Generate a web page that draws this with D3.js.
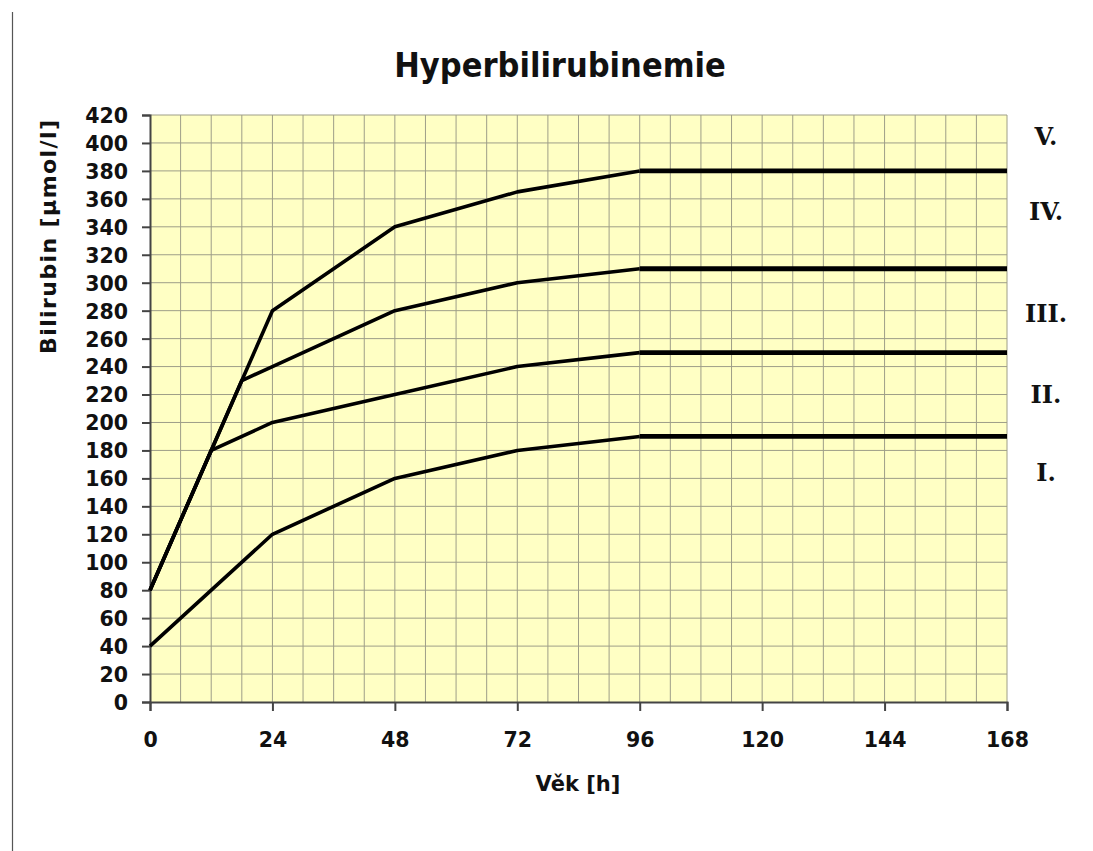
<!DOCTYPE html>
<html>
<head>
<meta charset="utf-8">
<script src="https://cdn.jsdelivr.net/npm/d3@7"></script>
<style>
  body { margin: 0; background: #fff; }
  svg { display: block; }
  .tick text { font-family: Verdana, "DejaVu Sans", sans-serif; font-weight: bold; }
</style>
</head>
<body>
<svg id="chart"></svg>
<script>
// hours of age for each curve point
let hoursI   = [0, 24, 48, 72, 96];
let valuesI  = [40, 120, 160, 180, 190];
let hoursII  = [0, 12, 24, 48, 72, 96];
let valuesII = [80, 180, 200, 220, 240, 250];
let hoursIII  = [0, 12, 18, 24, 48, 72, 96];
let valuesIII = [80, 180, 230, 240, 280, 300, 310];
let hoursIV  = [0, 12, 18, 24, 48, 72, 96];
let valuesIV = [80, 180, 230, 280, 340, 365, 380];
// flat limits after 96 h
let plateauStart = 96, plateauEnd = 168;
let plateaus = [190, 250, 310, 380];
// zone labels and their level
let zoneNames = ["V.", "IV.", "III.", "II.", "I."];
let zoneLevels = [405, 351, 278, 220, 164];

let xTicks = [0, 24, 48, 72, 96, 120, 144, 168];
let yTicks = d3.range(0, 421, 20);

let width = 1093, height = 851;
let svg = d3.select("#chart").attr("width", width).attr("height", height);

let x = d3.scaleLinear().domain([0, 168]).range([150, 1007]);
let y = d3.scaleLinear().domain([0, 420]).range([702, 115]);

// frame line on the left
svg.append("line")
    .attr("x1", 12.5).attr("x2", 12.5).attr("y1", 12).attr("y2", height)
    .attr("stroke", "#555").attr("stroke-width", 1.2);

svg.append("rect")
    .attr("x", x(0)).attr("y", y(420))
    .attr("width", x(168) - x(0)).attr("height", y(0) - y(420))
    .attr("fill", "#ffffc4");

let grid = svg.append("g").attr("stroke", "#9e9e88").attr("stroke-width", 1);
grid.selectAll(".vg").data(d3.range(6, 169, 6)).join("line")
    .attr("x1", d => x(d)).attr("x2", d => x(d))
    .attr("y1", y(0)).attr("y2", y(420));
grid.selectAll(".hg").data(yTicks.slice(1)).join("line")
    .attr("x1", x(0)).attr("x2", x(168))
    .attr("y1", d => y(d)).attr("y2", d => y(d));

let xAxis = svg.append("g")
    .attr("transform", `translate(0,${y(0)})`)
    .call(d3.axisBottom(x).tickValues(xTicks).tickSize(9).tickPadding(21));
let yAxis = svg.append("g")
    .attr("transform", `translate(${x(0)},0)`)
    .call(d3.axisLeft(y).tickValues(yTicks).tickSize(8).tickPadding(14));
[xAxis, yAxis].forEach(a => {
  a.select(".domain").attr("stroke", "#444").attr("stroke-width", 2);
  a.selectAll(".tick line").attr("stroke", "#444").attr("stroke-width", 2);
  a.selectAll(".tick text").attr("fill", "#111").style("font-size", "20.5px");
});
yAxis.selectAll(".tick text").attr("dy", "0.36em");

let line = d3.line().x(d => x(d[0])).y(d => y(d[1]));
let curves = [
  [hoursI, valuesI], [hoursII, valuesII], [hoursIII, valuesIII], [hoursIV, valuesIV]
];
svg.append("g").selectAll("path").data(curves).join("path")
    .attr("d", c => line(d3.zip(c[0], c[1])))
    .attr("fill", "none").attr("stroke", "#000").attr("stroke-width", 3.6)
    .attr("stroke-linejoin", "round");
svg.append("g").selectAll("line").data(plateaus).join("line")
    .attr("x1", x(plateauStart)).attr("x2", x(plateauEnd))
    .attr("y1", d => y(d)).attr("y2", d => y(d))
    .attr("stroke", "#000").attr("stroke-width", 4.8);

svg.append("g").selectAll("text").data(zoneNames).join("text")
    .attr("x", 1046).attr("y", (d, i) => y(zoneLevels[i]))
    .attr("dy", "0.36em").attr("text-anchor", "middle")
    .style("font-family", "'DejaVu Serif', serif").style("font-weight", "bold")
    .style("font-size", "24px").attr("fill", "#111")
    .text(d => d);

svg.append("text")
    .attr("x", 560).attr("y", 77).attr("text-anchor", "middle")
    .style("font-family", "'DejaVu Sans Condensed', 'DejaVu Sans', sans-serif")
    .style("font-stretch", "condensed")
    .style("font-weight", "bold").style("font-size", "34px").attr("fill", "#111")
    .text("Hyperbilirubinemie");

svg.append("text")
    .attr("x", 578).attr("y", 791).attr("text-anchor", "middle")
    .style("font-family", "Verdana, 'DejaVu Sans', sans-serif")
    .style("font-weight", "bold").style("font-size", "21px").attr("fill", "#111")
    .text("Věk [h]");

svg.append("text")
    .attr("transform", "translate(56,237) rotate(-90)").attr("text-anchor", "middle")
    .attr("textLength", 234).attr("lengthAdjust", "spacing")
    .style("font-family", "Verdana, 'DejaVu Sans', sans-serif")
    .style("font-weight", "bold").style("font-size", "22px").attr("fill", "#111")
    .text("Bilirubin [µmol/l]");
</script>
</body>
</html>
